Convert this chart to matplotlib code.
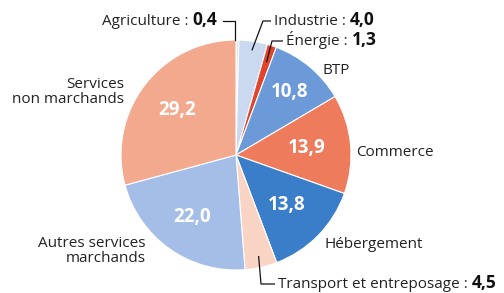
import numpy as np
import matplotlib.pyplot as plt

plt.rcParams['font.family'] = ['Open Sans', 'DejaVu Sans']

sectors = ['Agriculture', 'Industrie', 'Énergie', 'BTP', 'Commerce', 'Hébergement',
           'Transport et entreposage', 'Autres services\nmarchands', 'Services\nnon marchands']
values = [0.4, 4.0, 1.3, 10.8, 13.9, 13.8, 4.5, 22.0, 29.2]
colors = ['#dbe4f4', '#cbd9f0', '#e0452c', '#6c9ad8', '#ef7b5d', '#3a7dc9',
          '#f9d3c3', '#a5bee7', '#f3a98d']

W, H = 504, 293
cx, cy, R = 236, H - 155, 115

fig = plt.figure(figsize=(W / 100, H / 100), dpi=100)
ax = fig.add_axes([0, 0, 1, 1])
wedges, _ = ax.pie(values, colors=colors, startangle=90, counterclock=False,
                   center=(cx, cy), radius=R,
                   wedgeprops=dict(edgecolor='white', linewidth=0.8))
ax.set_xlim(0, W)
ax.set_ylim(0, H)
ax.set_aspect('equal')
ax.axis('off')

def fmt(v):
    return f'{v:.1f}'.replace('.', ',')

def point(w, r):
    a = np.deg2rad((w.theta1 + w.theta2) / 2)
    return cx + r * R * np.cos(a), cy + r * R * np.sin(a)

# values inside the big slices
inside_r = {3: 0.72, 4: 0.62, 5: 0.62, 7: 0.66, 8: 0.64}
for i, r in inside_r.items():
    x, y = point(wedges[i], r)
    ax.text(x, y, fmt(values[i]), color='white', fontsize=13.5, fontweight='bold',
            ha='center', va='center')

txt = '#222222'
fs = 11
fsv = 12.5

# plain outside labels
ax.text(323, H - 70, sectors[3], fontsize=fs, color=txt, ha='left', va='center')
ax.text(356, H - 152, sectors[4], fontsize=fs, color=txt, ha='left', va='center')
ax.text(325, H - 245, sectors[5], fontsize=fs, color=txt, ha='left', va='center')
ax.text(124, H - 92, sectors[8], fontsize=fs, color=txt, ha='right', va='center',
        linespacing=1.0)
ax.text(146, H - 251, sectors[7], fontsize=fs, color=txt, ha='right', va='center',
        linespacing=1.0)

def label(x, y, i, ha):
    # "name : value" with the value in bold, both on the same baseline
    name = sectors[i] + ' : '
    val = fmt(values[i])
    yb = H - (y + 4)
    if ha == 'left':
        t = ax.text(x, yb, name, fontsize=fs, color=txt, ha='left', va='baseline')
        fig.canvas.draw()
        bb = t.get_window_extent()
        ax.text(x + bb.width, yb, val, fontsize=fsv, color='#111111',
                fontweight='bold', ha='left', va='baseline')
    else:
        t = ax.text(x, yb, val, fontsize=fsv, color='#111111',
                    fontweight='bold', ha='right', va='baseline')
        fig.canvas.draw()
        bb = t.get_window_extent()
        ax.text(x - bb.width, yb, name, fontsize=fs, color=txt,
                ha='right', va='baseline')

def leader(i, r, elbow, end):
    x0, y0 = point(wedges[i], r)
    ax.plot([x0, elbow[0], end[0]], [y0, H - elbow[1], H - end[1]],
            color='#111111', lw=0.9, solid_capstyle='butt')

# Agriculture: vertical leader from top of pie
x0, y0 = point(wedges[0], 1.0)
ax.plot([235, 235, 223], [y0, H - 21, H - 21], color='#111111', lw=0.9)
label(217, 21, 0, 'right')

leader(1, 0.92, (263, 21), (271, 21))
label(274, 21, 1, 'left')
leader(2, 0.85, (272, 41), (283, 41))
label(286, 41, 2, 'left')
leader(6, 0.9, (261, 284), (275, 284))
label(278, 284, 6, 'left')

fig.savefig('out.png', dpi=100, facecolor='white')
